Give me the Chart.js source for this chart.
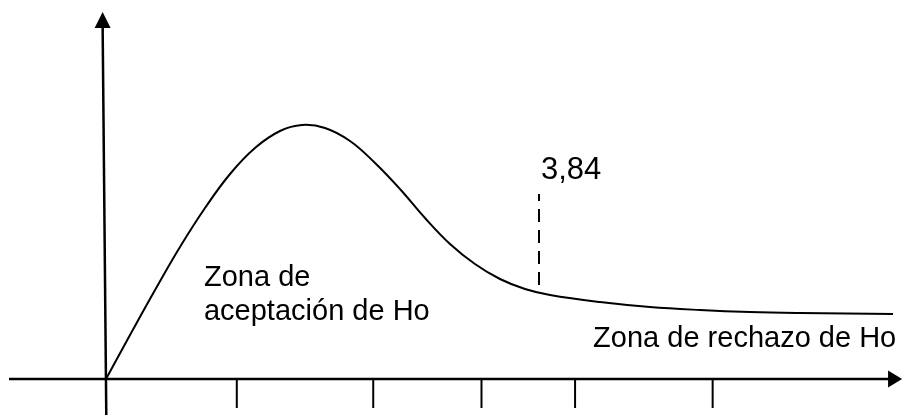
<!DOCTYPE html>
<html>
<head>
<meta charset="utf-8">
<script src="https://cdn.jsdelivr.net/npm/chart.js@4.4.1/dist/chart.umd.min.js"></script>
<style>
  html, body { margin: 0; padding: 0; background: #fff; }
  canvas { display: block; }
</style>
</head>
<body>
<canvas id="grafico-chi" width="904" height="415"></canvas>
<script>
// curva chi-cuadrado
const curvaX = [0, 0.213, 0.435, 0.656, 0.878, 1.1, 1.321, 1.543, 1.738, 1.942, 2.164, 2.386, 2.607, 2.829, 3.051, 3.272, 3.494, 3.716, 3.938, 4.381, 4.824, 5.268, 5.711, 6.155, 6.98];
const curvaY = [0, 0.044, 0.089, 0.132, 0.171, 0.205, 0.231, 0.248, 0.254, 0.251, 0.238, 0.216, 0.19, 0.161, 0.135, 0.115, 0.1, 0.09, 0.084, 0.077, 0.072, 0.069, 0.067, 0.066, 0.065];

const valorCritico = 3.84;
const lineaCriticaY = [0.094, 0.185];
const marcasX = [1.16, 2.37, 3.33, 4.16, 5.38];
const textoCritico = '3,84';
const textoAceptacion = ['Zona de', 'aceptación de Ho'];
const textoRechazo = 'Zona de rechazo de Ho';

(function () {
  const ctx = document.getElementById('grafico-chi');

  const ejes = {
    id: 'ejes',
    afterDatasetsDraw(chart) {
      const x = chart.scales.x, y = chart.scales.y;
      const c = chart.ctx;
      const px = v => x.getPixelForValue(v);
      const py = v => y.getPixelForValue(v);
      c.save();
      c.strokeStyle = '#000';
      c.fillStyle = '#000';
      c.lineWidth = 2.5;

      // eje x
      const x0 = py(0);
      const finX = px(7.06);
      c.beginPath();
      c.moveTo(px(-0.86), x0);
      c.lineTo(finX - 12, x0);
      c.stroke();
      c.beginPath();
      c.moveTo(finX, x0);
      c.lineTo(finX - 14, x0 - 8.5);
      c.lineTo(finX - 14, x0 + 8.5);
      c.closePath();
      c.fill();

      // eje y (un poco inclinado como en el original)
      const topY = py(0.367);
      const xTop = px(-0.03), xBot = px(0.003);
      c.beginPath();
      c.moveTo(xBot, py(-0.04));
      c.lineTo(xTop, topY + 12);
      c.stroke();
      c.beginPath();
      c.moveTo(xTop, topY);
      c.lineTo(xTop - 8, topY + 16);
      c.lineTo(xTop + 8, topY + 16);
      c.closePath();
      c.fill();

      // marcas
      c.lineWidth = 2;
      marcasX.forEach(m => {
        c.beginPath();
        c.moveTo(px(m), x0);
        c.lineTo(px(m), py(-0.029));
        c.stroke();
      });

      // textos
      c.textBaseline = 'alphabetic';
      c.textAlign = 'left';
      c.font = '31px "Liberation Sans", Arial, sans-serif';
      c.fillText(textoCritico, px(valorCritico) + 2, py(0.2));
      c.font = '29px "Liberation Sans", Arial, sans-serif';
      c.fillText(textoAceptacion[0], px(0.869), py(0.093));
      c.fillText(textoAceptacion[1], px(0.869), py(0.059));
      c.fillText(textoRechazo, px(4.32), py(0.032));
      c.restore();
    }
  };

  new Chart(ctx, {
    type: 'scatter',
    data: {
      datasets: [{
        data: curvaX.map((v, i) => ({ x: v, y: curvaY[i] })),
        showLine: true,
        borderColor: '#000',
        borderWidth: 2,
        pointRadius: 0,
        tension: 0.4
      }, {
        data: lineaCriticaY.map(v => ({ x: valorCritico, y: v })),
        showLine: true,
        borderColor: '#000',
        borderWidth: 2,
        borderDash: [13, 8],
        pointRadius: 0
      }]
    },
    options: {
      responsive: false,
      animation: false,
      layout: { padding: 0 },
      plugins: {
        legend: { display: false },
        tooltip: { enabled: false }
      },
      scales: {
        x: { type: 'linear', min: -0.94, max: 7.077, display: false },
        y: { type: 'linear', min: -0.036, max: 0.379, display: false }
      }
    },
    plugins: [ejes]
  });
})();
</script>
</body>
</html>
